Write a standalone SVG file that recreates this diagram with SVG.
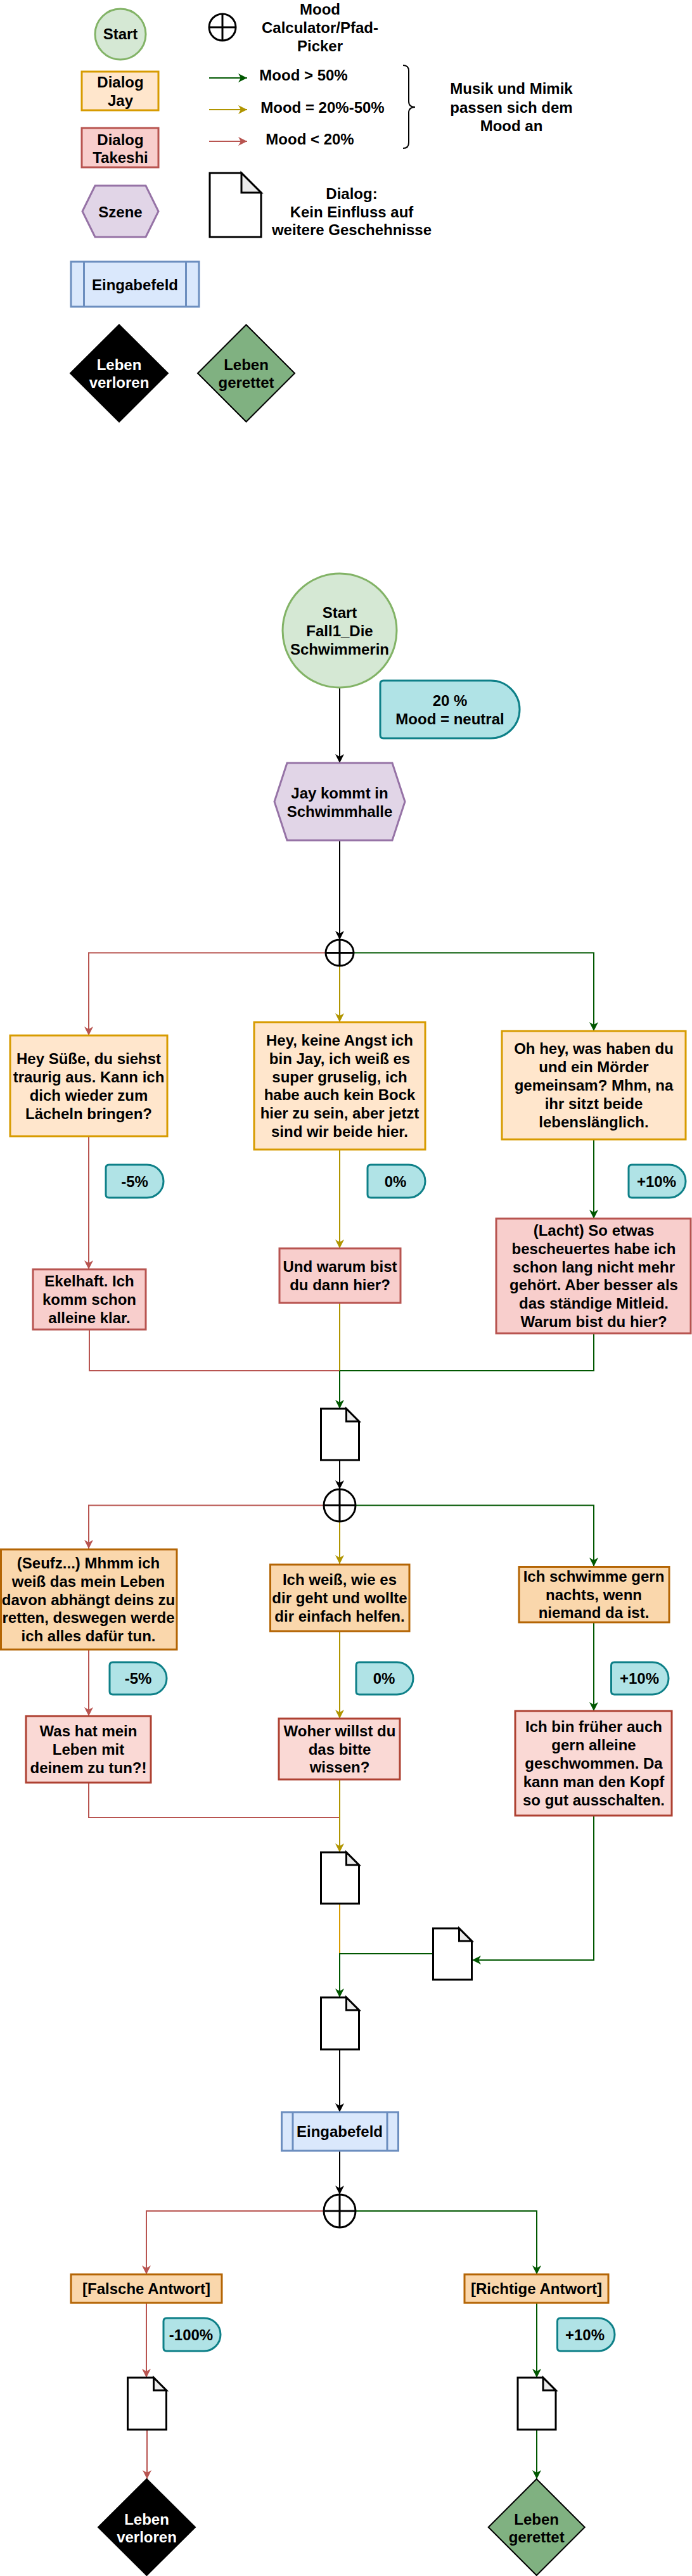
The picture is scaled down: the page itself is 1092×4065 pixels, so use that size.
<svg xmlns="http://www.w3.org/2000/svg" width="1092" height="4065" viewBox="0 0 1092 4065">
<style>
text{font-family:"Liberation Sans",Arial,Helvetica,sans-serif;font-weight:bold;font-size:24px;text-anchor:middle;fill:#000}
.w{fill:#fff}
.jay{fill:#ffe6cc;stroke:#d79b00;stroke-width:3}
.jay2{fill:#fad7ac;stroke:#b46504;stroke-width:3}
.tak{fill:#f8cecc;stroke:#b85450;stroke-width:3}
.tak2{fill:#fad9d5;stroke:#ae4132;stroke-width:3}
.sz{fill:#e1d5e7;stroke:#9673a6;stroke-width:3}
.st{fill:#d5e8d4;stroke:#82b366;stroke-width:3}
.tag{fill:#b0e3e6;stroke:#0e8088;stroke-width:3}
.inp{fill:#dae8fc;stroke:#6c8ebf;stroke-width:3}
.doc{fill:#fff;stroke:#000;stroke-width:3;stroke-linejoin:miter}
.fold{fill:#ebebeb;stroke:#000;stroke-width:3}
.cr{fill:#fff;stroke:#000;stroke-width:3}
.crl{stroke:#000;stroke-width:3;fill:none}
.lost{fill:#000;stroke:#000;stroke-width:2}
.saved{fill:#80b181;stroke:#000;stroke-width:2}
.c{fill:none;stroke-width:2}
.k{stroke:#000}
.r{stroke:#b85450}
.y{stroke:#b09500}
.g{stroke:#005700}
.o{stroke:#d79b00}
</style>
<defs>
<marker id="ak" viewBox="-15 -8 16 16" refX="0" refY="0" markerWidth="16" markerHeight="16" markerUnits="userSpaceOnUse" orient="auto"><path d="M0,0 L-14,-7 L-10,0 L-14,7 Z" fill="#000"/></marker>
<marker id="ar" viewBox="-15 -8 16 16" refX="0" refY="0" markerWidth="16" markerHeight="16" markerUnits="userSpaceOnUse" orient="auto"><path d="M0,0 L-14,-7 L-10,0 L-14,7 Z" fill="#b85450"/></marker>
<marker id="ay" viewBox="-15 -8 16 16" refX="0" refY="0" markerWidth="16" markerHeight="16" markerUnits="userSpaceOnUse" orient="auto"><path d="M0,0 L-14,-7 L-10,0 L-14,7 Z" fill="#b09500"/></marker>
<marker id="ag" viewBox="-15 -8 16 16" refX="0" refY="0" markerWidth="16" markerHeight="16" markerUnits="userSpaceOnUse" orient="auto"><path d="M0,0 L-14,-7 L-10,0 L-14,7 Z" fill="#005700"/></marker>
</defs>
<rect x="0" y="0" width="1092" height="4065" fill="#fff"/>

<!-- LEGEND -->
<g id="legend-start"><circle class="st" cx="190" cy="54" r="40"/><text x="190" y="62">Start</text></g>
<g id="legend-picker"><circle class="cr" cx="351" cy="43" r="21"/><path class="crl" d="M330,43 H372 M351,22 V64"/>
<text x="505" y="23">Mood</text><text x="505" y="52">Calculator/Pfad-</text><text x="505" y="81">Picker</text></g>
<g id="legend-jay"><rect class="jay" x="129" y="113" width="121" height="61"/><text x="190" y="138">Dialog</text><text x="190" y="167">Jay</text></g>
<g id="legend-takeshi"><rect class="tak" x="129" y="202" width="121" height="62"/><text x="190" y="228.5">Dialog</text><text x="190" y="257">Takeshi</text></g>
<g id="legend-szene"><polygon class="sz" points="150,293 230,293 250,333.5 230,374 150,374 130,333.5"/><text x="190" y="342.5">Szene</text></g>
<g id="legend-eingabe"><rect class="inp" x="112" y="413" width="202" height="71"/><path class="inp" d="M132.5,413 V484 M293.5,413 V484"/><text x="213" y="457.5">Eingabefeld</text></g>
<g id="legend-lost"><polygon class="lost" points="188,512.5 265,589 188,665.5 111,589"/><text class="w" x="188" y="583.5">Leben</text><text class="w" x="188" y="611.5">verloren</text></g>
<g id="legend-saved"><polygon class="saved" points="388.5,512.5 465,589 388.5,665.5 312,589"/><text x="388.5" y="583.5">Leben</text><text x="388.5" y="611.5">gerettet</text></g>
<g id="legend-arrows">
<path class="c g" d="M330,123 H390" marker-end="url(#ag)"/>
<path class="c y" d="M330,173 H390" marker-end="url(#ay)"/>
<path class="c r" d="M330,223 H390" marker-end="url(#ar)"/>
<text x="479" y="127">Mood &gt; 50%</text>
<text x="509" y="177.5">Mood = 20%-50%</text>
<text x="489" y="227.5">Mood &lt; 20%</text>
<path d="M636,103 Q645,103 645,112 V160 Q645,169 655,169 Q645,169 645,178 V225 Q645,234 636,234" fill="none" stroke="#000" stroke-width="2"/>
<text x="807" y="148">Musik und Mimik</text><text x="807" y="177.5">passen sich dem</text><text x="807" y="206.5">Mood an</text>
</g>
<g id="legend-doc"><path class="doc" d="M331,273 H381 L412,304 V374 H331 Z"/><path class="fold" d="M381,273 V304 H412 Z"/>
<text x="555" y="313.5">Dialog:</text><text x="555" y="342.5">Kein Einfluss auf</text><text x="555" y="371">weitere Geschehnisse</text></g>

<!-- CONNECTORS -->
<g id="connectors">
<path class="c k" d="M536,1085 V1204" marker-end="url(#ak)"/>
<path class="c k" d="M536,1326 V1483" marker-end="url(#ak)"/>
<path class="c r" d="M514,1503.5 H140 V1634" marker-end="url(#ar)"/>
<path class="c y" d="M536,1524 V1613" marker-end="url(#ay)"/>
<path class="c g" d="M558,1503.5 H937 V1627" marker-end="url(#ag)"/>
<path class="c r" d="M140,1793 V2003" marker-end="url(#ar)"/>
<path class="c y" d="M536,1814 V1970" marker-end="url(#ay)"/>
<path class="c g" d="M937,1798 V1923" marker-end="url(#ag)"/>
<path class="c r" d="M141,2098 V2163 H536"/>
<path class="c y" d="M536,2056 V2163"/>
<path class="c g" d="M937,2104 V2163 H536"/>
<path class="c g" d="M536,2163 V2223" marker-end="url(#ag)"/>
<path class="c k" d="M536,2304 V2350" marker-end="url(#ak)"/>
<path class="c r" d="M511,2375.5 H140 V2444" marker-end="url(#ar)"/>
<path class="c y" d="M536,2401 V2468" marker-end="url(#ay)"/>
<path class="c g" d="M561,2375.5 H937 V2472" marker-end="url(#ag)"/>
<path class="c r" d="M140,2603 V2708" marker-end="url(#ar)"/>
<path class="c y" d="M536,2574 V2712" marker-end="url(#ay)"/>
<path class="c g" d="M937,2560 V2700" marker-end="url(#ag)"/>
<path class="c r" d="M140,2813 V2868 H536"/>
<path class="c y" d="M536,2808 V2923" marker-end="url(#ay)"/>
<path class="c o" d="M536,3004 V3083"/>
<path class="c g" d="M937,2865 V3093 H745" marker-end="url(#ag)"/>
<path class="c g" d="M683.5,3083 H536 V3152" marker-end="url(#ag)"/>
<path class="c k" d="M536,3234 V3333" marker-end="url(#ak)"/>
<path class="c k" d="M536,3394 V3463" marker-end="url(#ak)"/>
<path class="c r" d="M511,3489 H231 V3589" marker-end="url(#ar)"/>
<path class="c g" d="M561,3489 H847 V3589" marker-end="url(#ag)"/>
<path class="c r" d="M231,3634 V3752" marker-end="url(#ar)"/>
<path class="c g" d="M847,3634 V3752" marker-end="url(#ag)"/>
<path class="c r" d="M232,3834 V3912" marker-end="url(#ar)"/>
<path class="c g" d="M847,3834 V3912" marker-end="url(#ag)"/>
</g>

<!-- NODES -->
<g id="start"><circle class="st" cx="536" cy="995" r="90"/><text x="536" y="975">Start</text><text x="536" y="1003.5">Fall1_Die</text><text x="536" y="1032.5">Schwimmerin</text></g>
<g id="mood-start"><path class="tag" d="M605,1074 H774.5 A45.5,45.5 0 0 1 774.5,1165 H605 Q600,1165 600,1160 V1079 Q600,1074 605,1074 Z"/><text x="710" y="1113.5">20 %</text><text x="710" y="1142.5">Mood = neutral</text></g>
<g id="scene"><polygon class="sz" points="453,1204 619,1204 639,1265 619,1326 453,1326 433,1265"/><text x="536" y="1259.5">Jay kommt in</text><text x="536" y="1288.5">Schwimmhalle</text></g>
<g id="picker1"><ellipse class="cr" cx="536" cy="1503.5" rx="22" ry="20.5"/><path class="crl" d="M514,1503.5 H558 M536,1483 V1524"/></g>

<g id="j1l"><rect class="jay" x="16" y="1634" width="248" height="159"/>
<text x="140" y="1678.5">Hey Süße, du siehst</text><text x="140" y="1707.5">traurig aus. Kann ich</text><text x="140" y="1736.5">dich wieder zum</text><text x="140" y="1765.5">Lächeln bringen?</text></g>
<g id="j1m"><rect class="jay" x="401" y="1613" width="270" height="201"/>
<text x="536" y="1650">Hey, keine Angst ich</text><text x="536" y="1678.8">bin Jay, ich weiß es</text><text x="536" y="1707.6">super gruselig, ich</text><text x="536" y="1736.4">habe auch kein Bock</text><text x="536" y="1765.2">hier zu sein, aber jetzt</text><text x="536" y="1794">sind wir beide hier.</text></g>
<g id="j1r"><rect class="jay" x="792" y="1627" width="290" height="171"/>
<text x="937" y="1663.4">Oh hey, was haben du</text><text x="937" y="1692.2">und ein Mörder</text><text x="937" y="1721">gemeinsam? Mhm, na</text><text x="937" y="1749.8">ihr sitzt beide</text><text x="937" y="1778.6">lebenslänglich.</text></g>

<g id="t1l"><path class="tag" d="M172,1838 H232 A26,26 0 0 1 232,1890 H172 Q167,1890 167,1885 V1843 Q167,1838 172,1838 Z"/><text x="212.5" y="1872.5">-5%</text></g>
<g id="t1m"><path class="tag" d="M585,1838 H645 A26,26 0 0 1 645,1890 H585 Q580,1890 580,1885 V1843 Q580,1838 585,1838 Z"/><text x="624" y="1872.5">0%</text></g>
<g id="t1r"><path class="tag" d="M997,1838 H1056 A26,26 0 0 1 1056,1890 H997 Q992,1890 992,1885 V1843 Q992,1838 997,1838 Z"/><text x="1036" y="1872.5">+10%</text></g>

<g id="k1l"><rect class="tak" x="52" y="2003" width="178" height="95"/>
<text x="141" y="2030.2">Ekelhaft. Ich</text><text x="141" y="2059">komm schon</text><text x="141" y="2087.8">alleine klar.</text></g>
<g id="k1m"><rect class="tak" x="441" y="1970" width="191" height="86"/>
<text x="536.5" y="2007.1">Und warum bist</text><text x="536.5" y="2035.9">du dann hier?</text></g>
<g id="k1r"><rect class="tak" x="783" y="1923" width="307" height="181"/>
<text x="937" y="1950">(Lacht) So etwas</text><text x="937" y="1978.8">bescheuertes habe ich</text><text x="937" y="2007.6">schon lang nicht mehr</text><text x="937" y="2036.4">gehört. Aber besser als</text><text x="937" y="2065.2">das ständige Mitleid.</text><text x="937" y="2094">Warum bist du hier?</text></g>

<g id="doc1"><path class="doc" d="M506.5,2223 H546.5 L566.5,2243 V2304 H506.5 Z"/><path class="fold" d="M546.5,2223 V2243 H566.5 Z"/></g>
<g id="picker2"><ellipse class="cr" cx="536" cy="2375.5" rx="25" ry="25.5"/><path class="crl" d="M511,2375.5 H561 M536,2350 V2401"/></g>

<g id="j2l"><rect class="jay2" x="1.5" y="2445" width="277.5" height="158"/>
<text x="139.5" y="2474.9">(Seufz...) Mhmm ich</text><text x="139.5" y="2503.7">weiß das mein Leben</text><text x="139.5" y="2532.5">davon abhängt deins zu</text><text x="139.5" y="2561.3">retten, deswegen werde</text><text x="139.5" y="2590.1">ich alles dafür tun.</text></g>
<g id="j2m"><rect class="jay2" x="426.5" y="2469" width="219.5" height="105"/>
<text x="536" y="2501.2">Ich weiß, wie es</text><text x="536" y="2530">dir geht und wollte</text><text x="536" y="2558.8">dir einfach helfen.</text></g>
<g id="j2r"><rect class="jay2" x="819" y="2472.5" width="237" height="87.5"/>
<text x="937" y="2495.7">Ich schwimme gern</text><text x="937" y="2524.5">nachts, wenn</text><text x="937" y="2553.3">niemand da ist.</text></g>

<g id="t2l"><path class="tag" d="M178,2623 H237.5 A25.5,25.5 0 0 1 237.5,2674 H178 Q173,2674 173,2669 V2628 Q173,2623 178,2623 Z"/><text x="218" y="2657">-5%</text></g>
<g id="t2m"><path class="tag" d="M567,2623 H626.5 A25.5,25.5 0 0 1 626.5,2674 H567 Q562,2674 562,2669 V2628 Q562,2623 567,2623 Z"/><text x="606" y="2657">0%</text></g>
<g id="t2r"><path class="tag" d="M969.5,2623 H1029.5 A25.5,25.5 0 0 1 1029.5,2674 H969.5 Q964.5,2674 964.5,2669 V2628 Q964.5,2623 969.5,2623 Z"/><text x="1009" y="2657">+10%</text></g>

<g id="k2l"><rect class="tak2" x="41" y="2708" width="197" height="105"/>
<text x="139.5" y="2740.2">Was hat mein</text><text x="139.5" y="2769">Leben mit</text><text x="139.5" y="2797.8">deinem zu tun?!</text></g>
<g id="k2m"><rect class="tak2" x="440" y="2712" width="191" height="96"/>
<text x="536" y="2739.7">Woher willst du</text><text x="536" y="2768.5">das bitte</text><text x="536" y="2797.3">wissen?</text></g>
<g id="k2r"><rect class="tak2" x="813" y="2700" width="247" height="165"/>
<text x="937" y="2733.4">Ich bin früher auch</text><text x="937" y="2762.2">gern alleine</text><text x="937" y="2791">geschwommen. Da</text><text x="937" y="2819.8">kann man den Kopf</text><text x="937" y="2848.6">so gut ausschalten.</text></g>

<g id="doc2"><path class="doc" d="M506.5,2923 H546.5 L566.5,2943 V3004 H506.5 Z"/><path class="fold" d="M546.5,2923 V2943 H566.5 Z"/></g>
<g id="doc3"><path class="doc" d="M683.5,3043 H724.5 L744.5,3063 V3124 H683.5 Z"/><path class="fold" d="M724.5,3043 V3063 H744.5 Z"/></g>
<g id="doc4"><path class="doc" d="M506.5,3152 H546.5 L566.5,3172 V3234 H506.5 Z"/><path class="fold" d="M546.5,3152 V3172 H566.5 Z"/></g>

<g id="eingabe"><rect class="inp" x="444.5" y="3333" width="184" height="61"/><path class="inp" d="M462,3333 V3394 M611,3333 V3394"/><text x="536" y="3371.5">Eingabefeld</text></g>
<g id="picker3"><ellipse class="cr" cx="536" cy="3489" rx="25" ry="26"/><path class="crl" d="M511,3489 H561 M536,3463 V3515"/></g>

<g id="falsch"><rect class="jay2" x="112" y="3589" width="238" height="45"/><text x="231" y="3620">[Falsche Antwort]</text></g>
<g id="richtig"><rect class="jay2" x="733" y="3589" width="227" height="45"/><text x="846.5" y="3620">[Richtige Antwort]</text></g>

<g id="t3l"><path class="tag" d="M263,3658 H322 A26,26 0 0 1 322,3710 H263 Q258,3710 258,3705 V3663 Q258,3658 263,3658 Z"/><text x="301.5" y="3692.5">-100%</text></g>
<g id="t3r"><path class="tag" d="M884.5,3658 H944 A26,26 0 0 1 944,3710 H884.5 Q879.5,3710 879.5,3705 V3663 Q879.5,3658 884.5,3658 Z"/><text x="923" y="3692.5">+10%</text></g>

<g id="doc5"><path class="doc" d="M201.5,3752 H242.5 L262.5,3772 V3834 H201.5 Z"/><path class="fold" d="M242.5,3752 V3772 H262.5 Z"/></g>
<g id="doc6"><path class="doc" d="M817,3752 H857 L877,3772 V3834 H817 Z"/><path class="fold" d="M857,3752 V3772 H877 Z"/></g>

<g id="lost"><polygon class="lost" points="231.5,3912 308,3988 231.5,4064 155,3988"/><text class="w" x="231.5" y="3983.5">Leben</text><text class="w" x="231.5" y="4011.8">verloren</text></g>
<g id="saved"><polygon class="saved" points="846.7,3912 922.7,3988 846.7,4064 770.7,3988"/><text x="846.7" y="3983.5">Leben</text><text x="846.7" y="4011.8">gerettet</text></g>
</svg>
